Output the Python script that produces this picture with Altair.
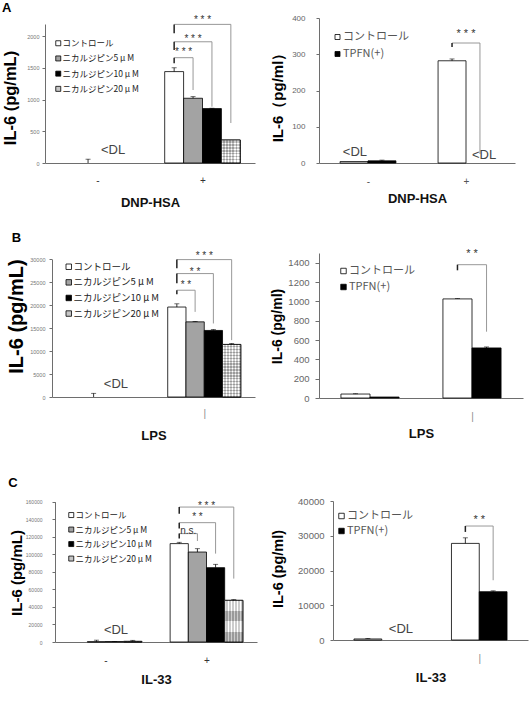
import altair as alt
import pandas as pd

CANVAS_W, CANVAS_H = 531, 708
LATIN = "Liberation Sans"
CJK = "Noto Sans CJK JP"

# ---------------------------------------------------------------- data
GROUPS = ["-", "+"]
NIC_SERIES = ["コントロール", "ニカルジピン5 μ M", "ニカルジピン10 μ M", "ニカルジピン20 μ M"]
TPFN_SERIES = ["コントロール", "TPFN(+)"]
NIC_FILLS = ["#ffffff", "#a3a3a3", "#000000", "#c6c6c6"]
TPFN_FILLS = ["#ffffff", "#000000"]

# IL-6 mean and SD; first row = unstimulated (-), second row = stimulated (+)
a_nic_mean = [[0, 0, 0, 0], [1440, 1020, 857, 362]]
a_nic_err = [[0, 60, 0, 0], [60, 25, 6, 0]]
a_tpfn_mean = [[4, 6], [282, 0]]
a_tpfn_err = [[0, 2], [5, 0]]

b_nic_mean = [[0, 0, 0, 0], [19600, 16370, 14500, 11450]]
b_nic_err = [[0, 800, 0, 0], [700, 100, 200, 200]]
b_tpfn_mean = [[41, 10], [1025, 518]]
b_tpfn_err = [[3, 0], [3, 10]]

c_nic_mean = [[0, 300, 400, 700], [112200, 102600, 84800, 47500]]
c_nic_err = [[0, 1800, 300, 1200], [1500, 3800, 3800, 800]]
c_tpfn_mean = [[300, 0], [27800, 13900]]
c_tpfn_err = [[150, 0], [1600, 250]]

# significance brackets inside the "+" group:
# (from series, to series, bracket top, left arm end, right drop end, label, label level)
a_nic_sig = [(0, 1, 1659, 1570, 1150, "* * *", 1780),
             (0, 2, 1910, 1780, 887, "* * *", 1979),
             (0, 3, 2184, 2043, 630, "* * *", 2279)]
a_tpfn_sig = [(0, 1, 331, 320, 25, "* * *", 361)]
b_nic_sig = [(0, 1, 23261, 22391, 18543, "* *", 24848),
             (0, 2, 26891, 24783, 16022, "* *", 27609),
             (0, 3, 29935, 28043, 12391, "* * *", 31087)]
b_tpfn_sig = [(0, 1, 1379, 1321, 686, "* *", 1509)]
c_nic_sig = [(0, 1, 123600, 117900, 115200, "n.s.", 128500),
             (0, 2, 136100, 129300, 100800, "* *", 144500),
             (0, 3, 153900, 146400, 72300, "* * *", 157800)]
c_tpfn_sig = [(0, 1, 32800, 31100, 17200, "* *", 35100)]

# below-detection-limit notes: (group axis position, IL-6 level)
a_nic_dl = [(0.148, 205)]
a_tpfn_dl = [(-0.133, 30), (1.184, 22)]
b_nic_dl = [(0.13, 2760)]
b_tpfn_dl = []
c_nic_dl = [(0.104, 13700)]
c_tpfn_dl = [(0.197, 3165)]

a_nic_ticks = [0, 500, 1000, 1500, 2000]
a_tpfn_ticks = [0, 100, 200, 300, 400]
b_nic_ticks = [0, 5000, 10000, 15000, 20000, 25000, 30000]
b_tpfn_ticks = [0, 200, 400, 600, 800, 1000, 1200, 1400]
c_nic_ticks = [0, 20000, 40000, 60000, 80000, 100000, 120000, 140000, 160000]
c_tpfn_ticks = [0, 10000, 20000, 30000, 40000]


# ---------------------------------------------------------------- helpers
def bar_rows(means, errs, series, group_frac):
    n = len(series)
    bw = group_frac / n
    rows = []
    for g, grp in enumerate(GROUPS):
        for s, name in enumerate(series):
            c = g + (s - (n - 1) / 2) * bw
            rows.append(dict(group=grp, series=name, idx=s, val=means[g][s],
                             err=errs[g][s], top=means[g][s] + errs[g][s],
                             base=0, xc=c, xl=c - bw / 2, xr=c + bw / 2))
    return pd.DataFrame(rows)


def stripes(n, vertical, dark="#9a9a9a", light="#ffffff"):
    stops = []
    for i in range(n):
        a, b, c = i / n, (i + 0.5) / n, (i + 1) / n
        stops += [alt.GradientStop(color=light, offset=a),
                  alt.GradientStop(color=light, offset=b),
                  alt.GradientStop(color=dark, offset=b),
                  alt.GradientStop(color=dark, offset=c)]
    if vertical:
        return alt.Gradient(gradient="linear", stops=stops, x1=0, x2=1, y1=0, y2=0)
    return alt.Gradient(gradient="linear", stops=stops, x1=0, x2=0, y1=0, y2=1)


def panel(p):
    series = p["series"]
    bars = bar_rows(p["mean"], p["err"], series, p["group_frac"])
    plus = bars[bars.group == "+"].reset_index(drop=True)
    centers = list(plus.xc)

    segs, arms, sig_labels = [], [], []
    for i, j, top, arm, drop, text, lvl in p["sig"]:
        xa, xb = centers[i], centers[j]
        segs.append(dict(x=xa, x2=xb, y=top, y2=top))
        segs.append(dict(x=xb, x2=xb, y=drop, y2=top))
        arms.append(dict(x=xa, x2=xa, y=arm, y2=top))
        sig_labels.append(dict(x=(xa + xb) / 2, y=lvl, text=text))

    x0 = p["x_range"][0]
    y0, y1 = p["y_range"]
    xs = alt.Scale(domain=[-0.5, 1.5], range=p["x_range"], nice=False, zero=False)
    ys = alt.Scale(domain=[0, p["y_max"]], range=p["y_range"], nice=False, zero=False)
    label_expr = "[" + ",".join(f"'{t}'" for t in p["x_labels"]) + "][datum.value]"
    xa_ = alt.Axis(orient="bottom", offset=-(CANVAS_H - y0), values=[0, 1],
                   labelExpr=label_expr, ticks=False, tickSize=0, grid=False,
                   labelBaseline="middle", labelPadding=p["x_label_pad"],
                   labelFont=LATIN, labelFontSize=10, labelColor=p["x_label_color"],
                   domainColor="#6e6e6e", domainWidth=1,
                   title=p["x_title"], titleY=p["x_title_y"], titleBaseline="middle",
                   titleFont=LATIN, titleFontSize=13, titleFontWeight="bold",
                   titleColor="#111")
    ya_ = alt.Axis(orient="left", offset=-x0, values=p["y_ticks"], format="d",
                   grid=False, tickSize=p["tick_size"], tickColor="#6e6e6e",
                   domainColor="#6e6e6e", domainWidth=1,
                   labelFont=LATIN, labelFontSize=p["y_label_size"],
                   labelColor=p["y_label_color"], labelPadding=p["y_label_pad"],
                   title=p["y_title"], titleX=p["y_title_x"], titleY=p["y_title_y"],
                   titleAngle=270, titleBaseline="middle", titleAlign="center",
                   titleFont=LATIN, titleFontSize=p["y_title_size"],
                   titleFontWeight="bold", titleColor="#000")

    def X(f):
        return alt.X(f, type="quantitative", scale=xs, axis=xa_)

    def Y(f):
        return alt.Y(f, type="quantitative", scale=ys, axis=ya_)

    lg = p["legend"]
    legend = alt.Legend(orient="none", legendX=lg["x"], legendY=lg["y"], title=None,
                        symbolType="square", symbolSize=lg["sym"],
                        symbolStrokeColor="#000", symbolStrokeWidth=0.8,
                        labelFont=CJK, labelFontSize=lg["font"], labelColor=lg["color"],
                        labelOffset=0, rowPadding=lg["row_pad"], padding=0)

    shown = bars[bars.val > 0]
    layers = [
        alt.Chart(shown).mark_bar(stroke="#000", strokeWidth=0.8).encode(
            x=X("xl"), x2="xr", y=Y("val"), y2="base",
            fill=alt.Fill("series:N", scale=alt.Scale(domain=series, range=p["fills"]),
                          legend=legend)),
    ]
    if p.get("speckled") is not None:
        sp = shown[shown.idx == p["speckled"]]
        # dotted fill: fine vertical stripes crossed with half-transparent rows
        bar_px = float(sp.val.iloc[0]) / p["y_max"] * (y0 - y1)
        rows = max(2, round(bar_px / 3))
        layers.append(alt.Chart(sp).mark_bar(strokeWidth=0, fill=stripes(6, True)).encode(
            x=X("xl"), x2="xr", y=Y("val"), y2="base"))
        layers.append(alt.Chart(sp).mark_bar(stroke="#000", strokeWidth=0.8,
                                             fill=stripes(rows, False), fillOpacity=0.5
                                             ).encode(
            x=X("xl"), x2="xr", y=Y("val"), y2="base"))
    errs = bars[bars.err > 0]
    layers += [
        alt.Chart(errs).mark_rule(color="#000", strokeWidth=0.8).encode(
            x=X("xc"), y=Y("val"), y2="top"),
        alt.Chart(errs).mark_tick(orient="horizontal", size=5, thickness=0.8,
                                  color="#000").encode(x=X("xc"), y=Y("top")),
        alt.Chart(pd.DataFrame(segs)).mark_rule(color="#8c8c8c", strokeWidth=0.9).encode(
            x=X("x"), x2="x2", y=Y("y"), y2="y2"),
        alt.Chart(pd.DataFrame(arms)).mark_rule(color="#222", strokeWidth=1.5).encode(
            x=X("x"), x2="x2", y=Y("y"), y2="y2"),
        alt.Chart(pd.DataFrame(sig_labels)).mark_text(
            font=LATIN, fontSize=p["sig_size"], color="#333", baseline="middle", dy=2
        ).encode(x=X("x"), y=Y("y"), text="text:N"),
    ]
    if p["dl"]:
        dl = pd.DataFrame([dict(x=x, y=y, text="<DL") for x, y in p["dl"]])
        layers.append(alt.Chart(dl).mark_text(
            font=LATIN, fontSize=13, color="#444", baseline="middle"
        ).encode(x=X("x"), y=Y("y"), text="text:N"))
    if p.get("letter"):
        t, lx, ly = p["letter"]
        layers.append(alt.Chart(pd.DataFrame({"t": [t]})).mark_text(
            font=LATIN, fontWeight="bold", fontSize=13, align="left",
            baseline="alphabetic", color="#000"
        ).encode(x=alt.value(lx), y=alt.value(ly), text="t:N"))
    return alt.layer(*layers)


NIC = dict(series=NIC_SERIES, fills=NIC_FILLS, group_frac=0.72, speckled=3,
           sig_size=10, x_label_color="#333", y_label_color="#777")
TPFN = dict(series=TPFN_SERIES, fills=TPFN_FILLS, group_frac=0.57, speckled=None,
            sig_size=11, x_label_color="#555", y_label_color="#666")

panels = [
    dict(NIC, mean=a_nic_mean, err=a_nic_err, sig=a_nic_sig, dl=a_nic_dl,
         x_range=[45, 255], y_range=[163, 24], y_max=2190, y_ticks=a_nic_ticks,
         y_label_size=5.5, y_label_pad=3, tick_size=3,
         y_title="IL-6 (pg/mL)", y_title_size=16.5, y_title_x=-34.7, y_title_y=97.5,
         x_title="DNP-HSA", x_labels=["-", "+"], x_label_pad=17, x_title_y=39,
         legend=dict(x=54, y=39, font=8.5, row_pad=6.2, sym=25, color="#222"),
         letter=("A", 2, 11.7)),
    dict(TPFN, mean=a_tpfn_mean, err=a_tpfn_err, sig=a_tpfn_sig, dl=a_tpfn_dl,
         x_range=[319, 515], y_range=[163, 18], y_max=400, y_ticks=a_tpfn_ticks,
         y_label_size=8, y_label_pad=11, tick_size=3,
         y_title="IL-6（pg/ml）", y_title_size=15, y_title_x=-41.2, y_title_y=93.5,
         x_title="DNP-HSA", x_labels=["-", "+"], x_label_pad=18.7, x_title_y=35,
         legend=dict(x=332, y=31.5, font=11, row_pad=5, sym=25, color="#555")),
    dict(NIC, mean=b_nic_mean, err=b_nic_err, sig=b_nic_sig, dl=b_nic_dl,
         x_range=[52, 255], y_range=[397, 259.3], y_max=30000, y_ticks=b_nic_ticks,
         y_label_size=5.5, y_label_pad=4, tick_size=3,
         y_title="IL-6 (pg/mL)", y_title_size=20, y_title_x=-35.3, y_title_y=316,
         x_title="LPS", x_labels=["", "|"], x_label_pad=16.6, x_title_y=38,
         x_label_color="#8c8c8c",
         legend=dict(x=64, y=262, font=9.5, row_pad=4.6, sym=30, color="#222"),
         letter=("B", 11.7, 241.7)),
    dict(TPFN, mean=b_tpfn_mean, err=b_tpfn_err, sig=b_tpfn_sig, dl=b_tpfn_dl,
         x_range=[319, 523], y_range=[398, 253], y_max=1500, y_ticks=b_tpfn_ticks,
         y_label_size=9.5, y_label_pad=6, tick_size=4,
         y_title="IL-6 (pg/ml)", y_title_size=14, y_title_x=-42, y_title_y=326,
         x_title="LPS", x_labels=["", "|"], x_label_pad=18, x_title_y=35,
         x_label_color="#8c8c8c",
         legend=dict(x=338, y=265.5, font=11, row_pad=4, sym=30, color="#555")),
    dict(NIC, mean=c_nic_mean, err=c_nic_err, sig=c_nic_sig, dl=c_nic_dl,
         x_range=[55, 257], y_range=[642, 501.7], y_max=160000, y_ticks=c_nic_ticks,
         y_label_size=5, y_label_pad=10, tick_size=3,
         y_title="IL-6 (pg/mL)", y_title_size=15, y_title_x=-38.7, y_title_y=572.5,
         x_title="IL-33", x_labels=["-", "+"], x_label_pad=18, x_title_y=37,
         legend=dict(x=67, y=510.8, font=8.5, row_pad=5.5, sym=25, color="#222"),
         letter=("C", 8.3, 486.7)),
    dict(TPFN, mean=c_tpfn_mean, err=c_tpfn_err, sig=c_tpfn_sig, dl=c_tpfn_dl,
         x_range=[333, 528], y_range=[640, 501], y_max=40000, y_ticks=c_tpfn_ticks,
         y_label_size=9.5, y_label_pad=6, tick_size=3,
         y_title="IL-6 (pg/ml)", y_title_size=14.5, y_title_x=-55, y_title_y=568.5,
         x_title="IL-33", x_labels=["", "|"], x_label_pad=18, x_title_y=37,
         x_label_color="#8c8c8c",
         legend=dict(x=336, y=510.5, font=11, row_pad=3, sym=30, color="#555")),
]

chart = (
    alt.layer(*[panel(p) for p in panels])
    .resolve_scale(x="independent", y="independent", fill="independent")
    .resolve_axis(x="independent", y="independent")
    .resolve_legend(fill="independent")
    .properties(width=CANVAS_W, height=CANVAS_H,
                autosize=alt.AutoSizeParams(type="none"), padding=0,
                background="white")
    .configure_view(stroke=None)
)

chart.save("out.html", embed_options={"renderer": "svg", "actions": False})
